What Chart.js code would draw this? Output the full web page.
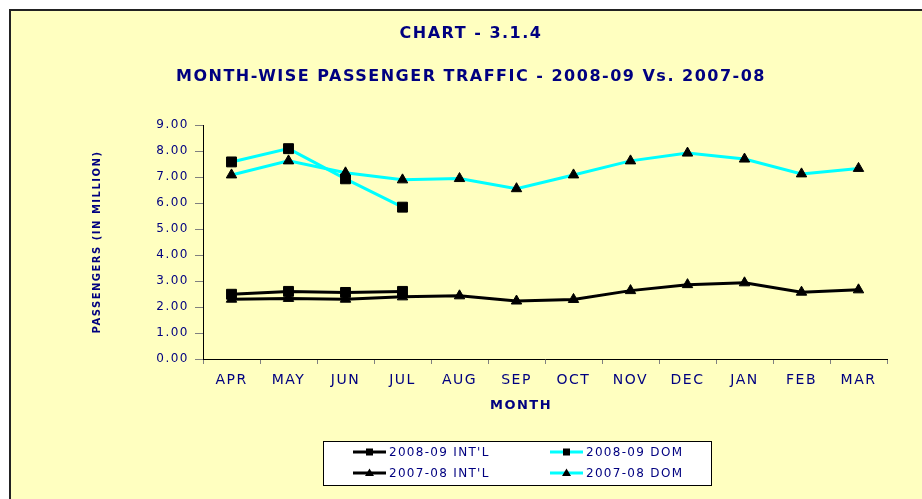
<!DOCTYPE html>
<html>
<head>
<meta charset="utf-8">
<title>Month-wise passenger traffic</title>
<script src="https://cdn.jsdelivr.net/npm/chart.js"></script>
<style>
  html, body { margin: 0; padding: 0; background: #ffffff; }
  canvas { display: block; }
</style>
</head>
<body>
<canvas id="trafficChart" width="922" height="499"></canvas>
<script>
// data (million passengers)
const months = ['APR', 'MAY', 'JUN', 'JUL', 'AUG', 'SEP', 'OCT', 'NOV', 'DEC', 'JAN', 'FEB', 'MAR'];
const intl0809 = [2.49, 2.60, 2.56, 2.60, null, null, null, null, null, null, null, null];
const dom0809 = [7.58, 8.09, 6.93, 5.84, null, null, null, null, null, null, null, null];
const intl0708 = [2.30, 2.33, 2.30, 2.39, 2.43, 2.23, 2.29, 2.63, 2.86, 2.93, 2.57, 2.66];
const dom0708 = [7.08, 7.62, 7.16, 6.89, 6.94, 6.55, 7.08, 7.62, 7.92, 7.69, 7.12, 7.33];
const seriesNames = ["2008-09 INT'L", '2008-09 DOM', "2007-08 INT'L", '2007-08 DOM'];

const navy = '#000080';
const fontFamily = '"DejaVu Sans", Verdana, sans-serif';

// background box, and a little spacing so the text looks as wide as excel's
const backgroundPlugin = {
  id: 'backgroundPlugin',
  beforeUpdate(chart) {
    chart.ctx.letterSpacing = '1.5px';
  },
  beforeDraw(chart) {
    const ctx = chart.ctx;
    ctx.letterSpacing = '1.5px';
    ctx.save();
    ctx.fillStyle = '#ffffff';
    ctx.fillRect(0, 0, chart.width, chart.height);
    ctx.fillStyle = '#FFFFC0';
    ctx.fillRect(10, 10, chart.width - 10, chart.height - 10);
    ctx.strokeStyle = '#222222';
    ctx.lineWidth = 2;
    ctx.beginPath();
    ctx.moveTo(10, chart.height);
    ctx.lineTo(10, 10);
    ctx.lineTo(chart.width, 10);
    ctx.stroke();
    ctx.restore();
  }
};

// x axis title and legend box like the excel one
const legendPlugin = {
  id: 'legendPlugin',
  afterDraw(chart) {
    const ctx = chart.ctx;
    ctx.save();
    ctx.letterSpacing = '1.5px';
    ctx.fillStyle = navy;
    ctx.font = 'bold 13px ' + fontFamily;
    ctx.textAlign = 'center';
    ctx.textBaseline = 'middle';
    ctx.fillText('MONTH', 521, 406);

    ctx.fillStyle = '#ffffff';
    ctx.fillRect(323, 441, 388, 44);
    ctx.strokeStyle = '#000000';
    ctx.lineWidth = 1;
    ctx.strokeRect(323.5, 441.5, 388, 44);

    const cols = [353, 550];
    const rows = [452, 473];
    ctx.letterSpacing = '1.3px';
    ctx.font = '12px ' + fontFamily;
    ctx.textAlign = 'left';
    chart.data.datasets.forEach((ds, i) => {
      const x = cols[i % 2];
      const y = rows[Math.floor(i / 2)];
      ctx.strokeStyle = ds.borderColor;
      ctx.lineWidth = 3;
      ctx.beginPath();
      ctx.moveTo(x, y);
      ctx.lineTo(x + 33, y);
      ctx.stroke();
      ctx.fillStyle = '#000000';
      const cx = x + 16.5;
      if (ds.pointStyle === 'rect') {
        ctx.fillRect(cx - 3.5, y - 3.5, 7, 7);
      } else {
        ctx.beginPath();
        ctx.moveTo(cx, y - 4.5);
        ctx.lineTo(cx + 4.5, y + 3);
        ctx.lineTo(cx - 4.5, y + 3);
        ctx.closePath();
        ctx.fill();
      }
      ctx.fillStyle = navy;
      ctx.fillText(ds.label, x + 36, y + 1);
    });
    ctx.restore();
  }
};

function makeDataset(label, values, color, style, order) {
  return {
    label: label,
    data: values,
    borderColor: color,
    borderWidth: 3,
    backgroundColor: '#000000',
    pointStyle: style,
    pointRadius: style === 'rect' ? 7 : 6,
    pointBorderColor: '#000000',
    pointBackgroundColor: '#000000',
    pointBorderWidth: 1,
    tension: 0,
    fill: false,
    order: order
  };
}

function renderChart() {
  const ctx = document.getElementById('trafficChart');
  new Chart(ctx, {
    type: 'line',
    data: {
      labels: months,
      datasets: [
        makeDataset(seriesNames[0], intl0809, '#000000', 'rect', 3),
        makeDataset(seriesNames[1], dom0809, '#00FFFF', 'rect', 2),
        makeDataset(seriesNames[2], intl0708, '#000000', 'triangle', 1),
        makeDataset(seriesNames[3], dom0708, '#00FFFF', 'triangle', 0)
      ]
    },
    options: {
      responsive: false,
      animation: false,
      layout: {
        padding: { left: 55, right: 35, top: 0, bottom: 0 }
      },
      plugins: {
        legend: { display: false },
        tooltip: { enabled: false },
        title: {
          display: true,
          text: 'CHART - 3.1.4',
          color: navy,
          font: { family: fontFamily, size: 16, weight: 'bold' },
          padding: { top: 24.4, bottom: 23.3 }
        },
        subtitle: {
          display: true,
          text: 'MONTH-WISE PASSENGER TRAFFIC - 2008-09 Vs. 2007-08',
          color: navy,
          font: { family: fontFamily, size: 16, weight: 'bold' },
          padding: { top: 0, bottom: 38.9 }
        }
      },
      scales: {
        x: {
          offset: true,
          afterFit: scale => { scale.height = 140; },
          grid: {
            drawOnChartArea: false,
            tickLength: 5,
            tickColor: '#808080',
            offset: true
          },
          border: { color: '#000000', width: 1 },
          ticks: {
            color: navy,
            padding: 8,
            maxRotation: 0,
            font: { family: fontFamily, size: 14 }
          }
        },
        y: {
          min: 0,
          max: 9,
          afterFit: scale => { scale.width = 148; },
          grid: {
            drawOnChartArea: false,
            tickLength: 8,
            tickColor: '#808080'
          },
          border: { color: '#000000', width: 1 },
          ticks: {
            stepSize: 1,
            color: navy,
            padding: 6,
            font: { family: fontFamily, size: 12 },
            callback: value => value.toFixed(2)
          },
          title: {
            display: true,
            text: 'PASSENGERS (IN MILLION)',
            color: navy,
            font: { family: fontFamily, size: 10, weight: 'bold' },
            padding: { top: 36, bottom: 0 }
          }
        }
      }
    },
    plugins: [backgroundPlugin, legendPlugin]
  });
}

renderChart();
</script>
</body>
</html>
